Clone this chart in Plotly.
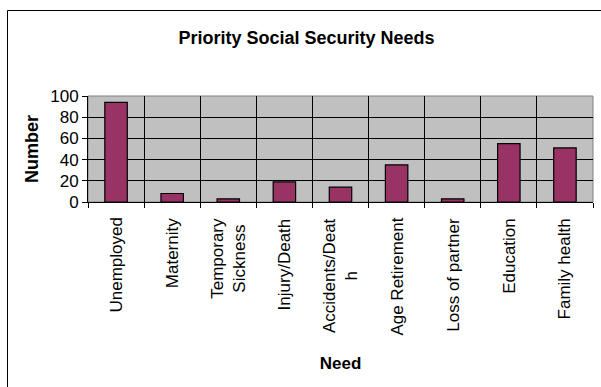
import plotly.graph_objects as go

# Survey results: priority social security needs
needs = [
    "Unemployed",
    "Maternity",
    "Temporary<br>Sickness",
    "Injury/Death",
    "Accidents/Deat<br>h",
    "Age Retirement",
    "Loss of partner",
    "Education",
    "Family health",
]
counts = [94, 8, 3, 19, 14, 35, 3, 55, 51]
y_ticks = [0, 20, 40, 60, 80, 100]

W, H = 601, 387
L, R, T, B = 88, 8, 96, 185
pw, ph = W - L - R, H - T - B

fig = go.Figure(
    go.Bar(
        x=needs,
        y=counts,
        marker=dict(color="#993366", line=dict(color="#000000", width=1.2)),
        width=0.4,
    )
)


def px_to_paper_x(px):
    return (px - L) / pw


def px_to_paper_y(py):
    return (H - B - py) / ph


# category labels, rotated and centred line by line
for name in needs:
    fig.add_annotation(
        x=name, y=0, xref="x", yref="y",
        text=name, textangle=-90, showarrow=False,
        xanchor="center", yanchor="top", align="center",
        yshift=-14,
        font=dict(size=17),
    )

fig.update_layout(
    width=W,
    height=H,
    margin=dict(l=L, r=R, t=T, b=B),
    paper_bgcolor="white",
    plot_bgcolor="#C0C0C0",
    font=dict(family="Liberation Sans, Arial, sans-serif", color="#000000"),
    showlegend=False,
    title=dict(
        text="<b>Priority Social Security Needs</b>",
        font=dict(size=18),
        x=0.51,
        xanchor="center",
        y=1 - 38 / H,
        yanchor="middle",
    ),
    xaxis=dict(
        showticklabels=False,
        tickson="boundaries",
        ticks="outside",
        ticklen=5,
        tickcolor="#000000",
        showgrid=True,
        gridcolor="#000000",
        gridwidth=1,
        showline=True,
        linecolor="#000000",
        linewidth=1,
        title=dict(text="<b>Need</b>", font=dict(size=17), standoff=155),
    ),
    yaxis=dict(
        range=[0, 100],
        tickvals=y_ticks,
        tickfont=dict(size=17),
        ticks="outside",
        ticklen=5,
        tickcolor="#000000",
        showgrid=True,
        gridcolor="#000000",
        gridwidth=1,
        zeroline=False,
        showline=True,
        linecolor="#000000",
        linewidth=1,
        title=dict(text="<b>Number</b>", font=dict(size=18), standoff=6),
    ),
    shapes=[
        # gray frame around the plot area
        dict(
            type="rect", xref="paper", yref="paper",
            x0=0, x1=1, y0=0, y1=1,
            line=dict(color="#808080", width=1), layer="below",
        ),
        # outer chart border
        dict(
            type="rect", xref="paper", yref="paper",
            x0=px_to_paper_x(7.5), x1=px_to_paper_x(620),
            y0=px_to_paper_y(400), y1=px_to_paper_y(10.5),
            line=dict(color="#000000", width=1),
        ),
    ],
)

fig.write_html("out.html")
